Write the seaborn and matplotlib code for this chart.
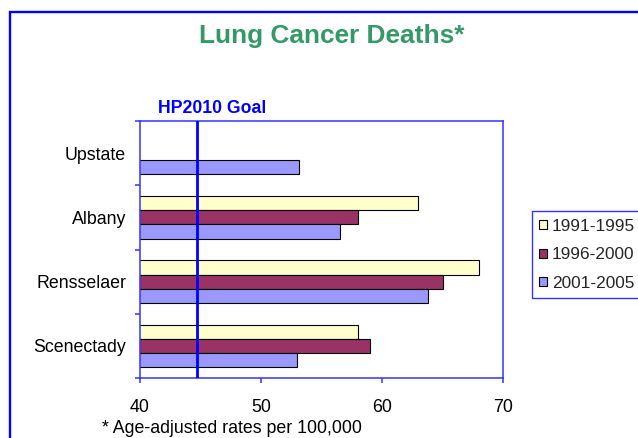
import numpy as np
import pandas as pd
import matplotlib
matplotlib.use("Agg")
import matplotlib.pyplot as plt
from matplotlib.patches import Rectangle, Patch
from matplotlib.ticker import FixedLocator
import seaborn as sns

# ---- data ----
counties = ["Upstate", "Albany", "Rensselaer", "Scenectady"]
periods = ["1991-1995", "1996-2000", "2001-2005"]
vals_1991_1995 = [np.nan, 63.0, 68.0, 58.0]
vals_1996_2000 = [np.nan, 58.0, 65.0, 59.0]
vals_2001_2005 = [53.1, 56.5, 63.8, 53.0]
goal_value = 44.7
x_ticks = [40, 50, 60, 70]
colors = ["#FFFFCC", "#993366", "#9999FF"]

title_text = "Lung Cancer Deaths*"
goal_text = "HP2010 Goal"
footnote_text = "* Age-adjusted rates per 100,000"

df = pd.DataFrame({
    "county": counties * 3,
    "period": [p for p in periods for _ in counties],
    "value": vals_1991_1995 + vals_1996_2000 + vals_2001_2005,
}).dropna()

sns.set_style("white")
plt.rcParams["font.family"] = ["Liberation Sans", "DejaVu Sans"]

W, H = 638, 438
fig = plt.figure(figsize=(W / 100, H / 100), dpi=100)
fig.patch.set_facecolor("white")

def fx(px):
    return px / W

def fy(py):
    return 1 - py / H

ax = fig.add_axes([fx(140), fy(378), fx(503) - fx(140), fy(121) - fy(378)])

palette = dict(zip(periods, colors))
sns.barplot(data=df, x="value", y="county", hue="period", order=counties,
            hue_order=periods, palette=palette, orient="h", width=0.66,
            saturation=1, edgecolor="black", linewidth=0.8, errorbar=None,
            legend=False, ax=ax, gap=0)

ax.set_xlim(x_ticks[0], x_ticks[-1])
ax.set_ylim(len(counties) - 0.5, -0.5)
ax.set_xticks(x_ticks)
ax.set_xlabel("")
ax.set_ylabel("")

spine_color = "#3333FF"
for s in ax.spines.values():
    s.set_visible(True)
    s.set_color(spine_color)
    s.set_linewidth(1.1)

ax.axvline(goal_value, color="#0000FF", linewidth=2.0, zorder=5)

ax.tick_params(axis="x", which="major", direction="out", length=3.6, width=1.1,
               color=spine_color, labelcolor="black", labelsize=12.8, pad=11.5,
               bottom=True)
ax.yaxis.set_minor_locator(FixedLocator(np.arange(-0.5, len(counties), 1.0)))
ax.tick_params(axis="y", which="major", length=0, labelsize=12.8, pad=10,
               labelcolor="black", left=True)
ax.tick_params(axis="y", which="minor", direction="out", length=3.6, width=1.1,
               color=spine_color, left=True)

# legend
handles = [Patch(facecolor=c, edgecolor="black", linewidth=0.8) for c in colors]
leg = fig.legend(handles, periods, loc="upper left",
                 bbox_to_anchor=(fx(531.5), fy(211)), bbox_transform=fig.transFigure,
                 borderaxespad=0, fontsize=12.4, handlelength=0.43,
                 handleheight=0.43, handletextpad=0.3, borderpad=0.45,
                 labelspacing=0.78, fancybox=False, frameon=True)
leg.get_frame().set_edgecolor("#0000FF")
leg.get_frame().set_linewidth(1.0)

# texts
fig.text(fx(332), fy(43.3), title_text, color="#339966", fontsize=18.9,
         fontweight="bold", ha="center", va="baseline")
fig.text(fx(158), fy(113.3), goal_text, color="#0000FF", fontsize=12.7,
         fontweight="bold", ha="left", va="baseline")
fig.text(fx(101.7), fy(433.4), footnote_text, color="black", fontsize=12.8,
         ha="left", va="baseline")

# outer border (extends beyond right and bottom edges)
border = Rectangle((fx(10), -0.2), 1.5, fy(11.7) + 0.2, transform=fig.transFigure,
                   fill=False, edgecolor="#0000FF", linewidth=1.7, clip_on=False)
fig.add_artist(border)

fig.savefig("out.png", dpi=100)
